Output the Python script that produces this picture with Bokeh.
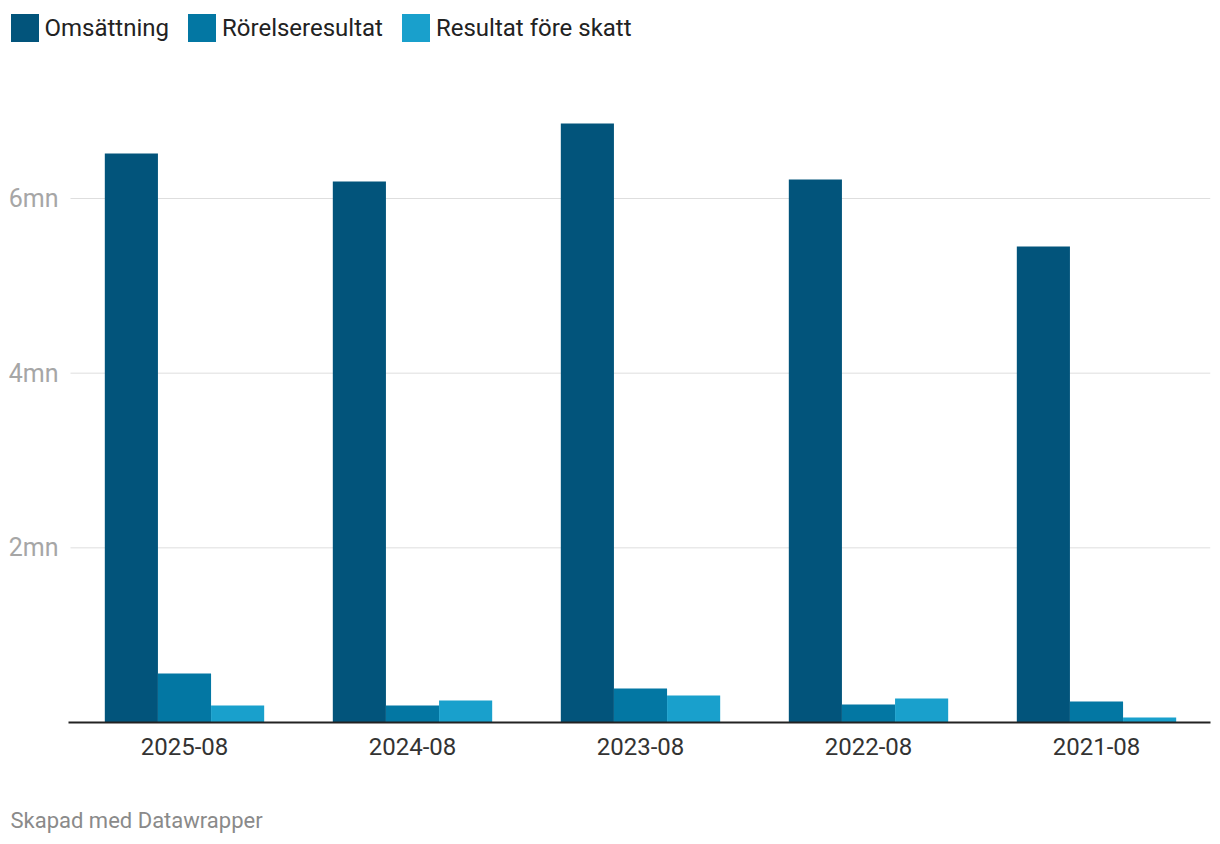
from bokeh.plotting import figure
from bokeh.models import ColumnDataSource, Legend, LegendItem, Title, FixedTicker, Range1d
from bokeh.transform import dodge
from bokeh.embed import file_html
from bokeh.resources import INLINE

years = ["2025-08", "2024-08", "2023-08", "2022-08", "2021-08"]
omsattning = [6515000, 6195000, 6860000, 6218000, 5451000]
rorelseresultat = [561000, 195000, 389000, 206000, 240000]
resultat_fore_skatt = [195000, 252000, 309000, 275000, 57000]
series_names = ["Omsättning", "Rörelseresultat", "Resultat före skatt"]
colors = ["#02547b", "#0377a3", "#19a0cc"]
y_ticks = [2000000, 4000000, 6000000]
y_tick_labels = ["2mn", "4mn", "6mn"]
footer_text = "Skapad med Datawrapper"

xs = list(range(len(years)))
src = ColumnDataSource(dict(x=xs, a=omsattning, b=rorelseresultat, c=resultat_fore_skatt))

# frame covers the whole top-left area so the legend sits inside it
p = figure(width=1212, height=840,
           x_range=Range1d(-0.807, len(years) - 0.5),
           y_range=Range1d(0, 8267000),
           output_backend="svg", toolbar_location=None,
           min_border_left=0, min_border_right=2, min_border_top=0, min_border_bottom=118)
p.outline_line_color = None

bw = 0.233
r1 = p.vbar(x=dodge("x", -bw), top="a", width=bw, source=src, color=colors[0], line_color=None)
r2 = p.vbar(x=dodge("x", 0), top="b", width=bw, source=src, color=colors[1], line_color=None)
r3 = p.vbar(x=dodge("x", bw), top="c", width=bw, source=src, color=colors[2], line_color=None)

# horizontal grid lines limited to the plotting area (from the first group's edge)
p.xgrid.grid_line_color = None
p.ygrid.grid_line_color = None
p.segment(x0=[-0.5] * len(y_ticks), x1=[len(years) - 0.5] * len(y_ticks), y0=y_ticks, y1=y_ticks,
          line_color="#dedede", line_width=1, level="underlay")

p.yaxis.fixed_location = -0.5
p.yaxis.ticker = FixedTicker(ticks=y_ticks)
p.yaxis.major_label_overrides = {t: l for t, l in zip(y_ticks, y_tick_labels)}
p.yaxis.axis_line_color = None
p.yaxis.major_tick_line_color = None
p.yaxis.minor_tick_line_color = None
p.yaxis.major_tick_out = 0
p.yaxis.major_tick_in = 0
p.yaxis.minor_tick_out = 0
p.yaxis.major_label_standoff = 12
p.yaxis.major_label_text_font = "Roboto"
p.yaxis.major_label_text_font_size = "25px"
p.yaxis.major_label_text_color = "#a6a6a6"

p.xaxis.ticker = FixedTicker(ticks=xs)
p.xaxis.major_label_overrides = {i: y for i, y in zip(xs, years)}
p.xaxis.bounds = (-0.51, len(years) - 0.5)
p.xaxis.axis_line_color = "#222222"
p.xaxis.axis_line_width = 2
p.xaxis.major_tick_line_color = None
p.xaxis.minor_tick_line_color = None
p.xaxis.major_tick_out = 0
p.xaxis.major_tick_in = 0
p.xaxis.minor_tick_out = 0
p.xaxis.major_label_standoff = 15
p.xaxis.major_label_text_font = "Roboto"
p.xaxis.major_label_text_font_size = "24px"
p.xaxis.major_label_text_color = "#333333"

legend = Legend(items=[LegendItem(label=series_names[0], renderers=[r1]),
                       LegendItem(label=series_names[1], renderers=[r2]),
                       LegendItem(label=series_names[2], renderers=[r3])],
                orientation="horizontal", location=(6.5, 677),
                glyph_width=35, glyph_height=35, label_height=35,
                label_standoff=3, spacing=15, padding=0, margin=0,
                border_line_color=None, background_fill_alpha=0,
                label_text_font="Roboto", label_text_font_size="24px",
                label_text_color="#222222")
p.add_layout(legend, "center")

spacer = Title(text=" ", text_font_size="24px", standoff=19, align="left")
p.add_layout(spacer, "below")
footer = Title(text=footer_text, align="left", offset=10, standoff=0,
               text_font="Roboto", text_font_style="normal", text_font_size="22px",
               text_color="#8a8a8a")
p.add_layout(footer, "below")

open("out.html", "w").write(file_html(p, INLINE))
